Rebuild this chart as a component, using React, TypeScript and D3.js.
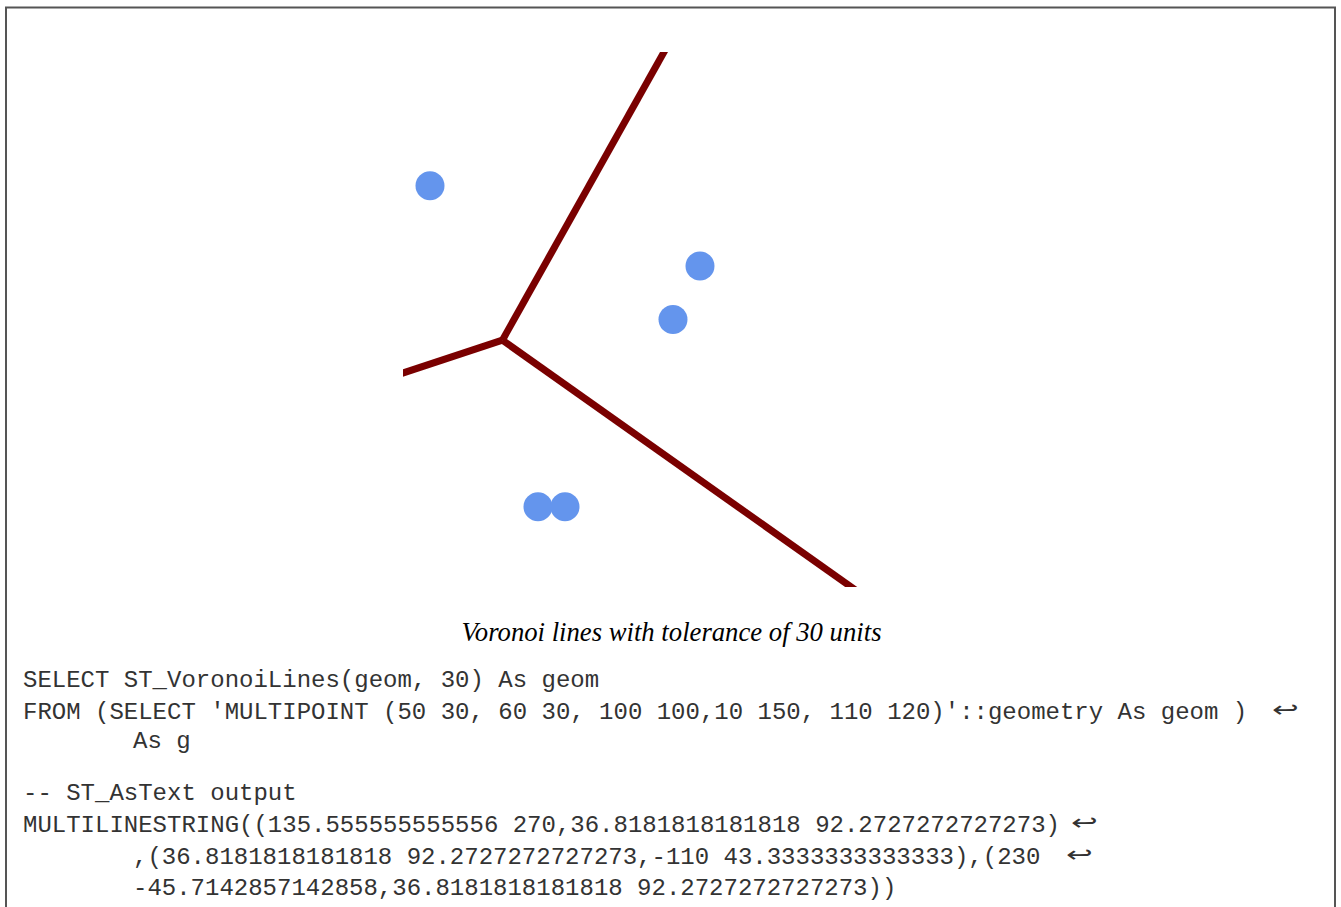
import React from "react";
import * as d3 from "d3";

const pointsX = [50, 60, 100, 10, 110];
const pointsY = [30, 30, 100, 150, 120];

const voronoiLines: [number, number][][] = [
  [[135.555555555556, 270], [36.8181818181818, 92.2727272727273]],
  [[36.8181818181818, 92.2727272727273], [-110, 43.3333333333333]],
  [[230, -45.7142857142858], [36.8181818181818, 92.2727272727273]],
];

const caption = "Voronoi lines with tolerance of 30 units";

const codeLines = [
  "SELECT ST_VoronoiLines(geom, 30) As geom",
  "FROM (SELECT 'MULTIPOINT (50 30, 60 30, 100 100,10 150, 110 120)'::geometry As geom )",
  "As g",
  "-- ST_AsText output",
  "MULTILINESTRING((135.555555555556 270,36.8181818181818 92.2727272727273)",
  ",(36.8181818181818 92.2727272727273,-110 43.3333333333333),(230",
  "-45.7142857142858,36.8181818181818 92.2727272727273))",
];
const codeIndent = [false, false, true, false, false, true, true];
const codeBaselines = [687, 719, 748, 800, 832, 864, 895];
const arrows = [
  { line: 1, x: 1272 },
  { line: 4, x: 1071 },
  { line: 5, x: 1066 },
];

export default function App() {
  const x = d3.scaleLinear().domain([0, 200]).range([403, 943]);
  const y = d3.scaleLinear().domain([0, 200]).range([587, 52]);
  const line = d3
    .line<[number, number]>()
    .x((d) => x(d[0]))
    .y((d) => y(d[1]));

  return (
    <svg
      width={1341}
      height={907}
      style={{ position: "absolute", left: 0, top: 0, background: "#fff" }}
    >
      <defs>
        <clipPath id="plotclip">
          <rect x={x(0)} y={y(200)} width={x(200) - x(0)} height={y(0) - y(200)} />
        </clipPath>
      </defs>
      <rect x={6} y={7.5} width={1329} height={950} fill="none" stroke="#555" strokeWidth={2} />
      <g clipPath="url(#plotclip)">
        {voronoiLines.map((l, i) => (
          <path key={i} d={line(l) || ""} fill="none" stroke="#7a0000" strokeWidth={7} strokeLinecap="butt" />
        ))}
        {pointsX.map((px, i) => (
          <circle key={i} cx={x(px)} cy={y(pointsY[i])} r={14.5} fill="#6495ED" />
        ))}
      </g>
      <text
        x={671.5}
        y={641}
        textAnchor="middle"
        fontFamily="'Liberation Serif', 'Times New Roman', serif"
        fontStyle="italic"
        fontSize={26.7}
        fill="#000"
      >
        {caption}
      </text>
      {codeLines.map((t, i) => (
        <text
          key={i}
          x={codeIndent[i] ? 133 : 23}
          y={codeBaselines[i]}
          fontFamily="'Liberation Mono', 'Courier New', monospace"
          fontSize={24}
          fill="#333"
          style={{ whiteSpace: "pre" }}
        >
          {t}
        </text>
      ))}
      {arrows.map((a, i) => (
        <text
          key={i}
          transform={`translate(${a.x},${codeBaselines[a.line] - 2}) scale(1.45,1)`}
          fontFamily="'DejaVu Sans', sans-serif"
          fontSize={22}
          fontWeight={300}
          fill="#333"
        >
          ↩
        </text>
      ))}
    </svg>
  );
}
